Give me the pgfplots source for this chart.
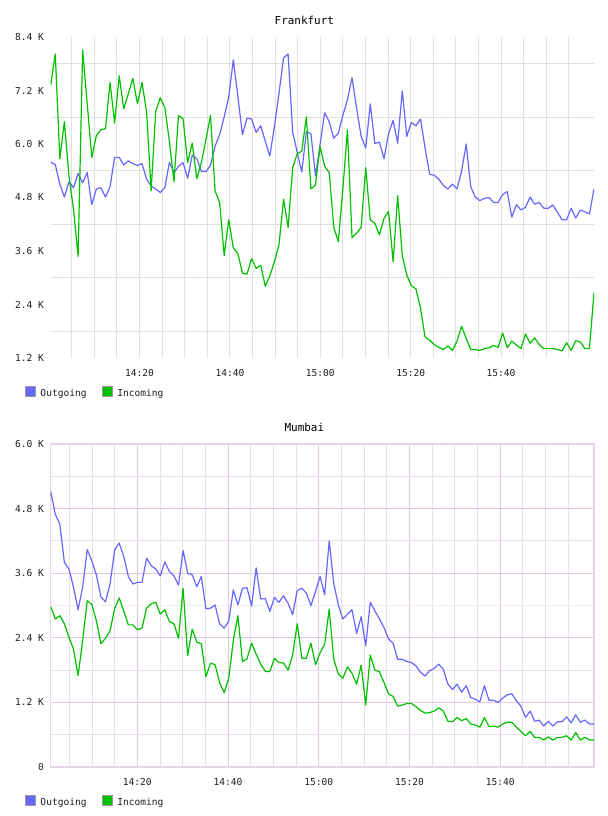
\documentclass[border=0pt]{standalone}
\usepackage{pgfplots}
\pgfplotsset{compat=1.18}
\usepackage{pgfplotstable}
\usepackage{fontspec}
\setmainfont{DejaVu Sans Mono}

\definecolor{outblue}{RGB}{102,102,255}
\definecolor{ingreen}{RGB}{0,192,0}
\definecolor{gridgrey}{RGB}{224,224,224}
\definecolor{majpink}{RGB}{226,198,226}
\definecolor{minpink}{RGB}{230,224,232}
\definecolor{framepink}{RGB}{230,212,232}
\definecolor{bandgrey}{RGB}{238,238,238}
\definecolor{labelgrey}{RGB}{30,30,30}

% traffic samples, one per minute, in thousands
\pgfplotstableread{
i out in
0 5.59 7.32
1 5.54 8.02
2 5.10 5.67
3 4.81 6.50
4 5.15 5.28
5 5.02 4.54
6 5.34 3.48
7 5.13 8.11
8 5.36 6.90
9 4.64 5.70
10 4.99 6.19
11 5.02 6.32
12 4.81 6.34
13 5.04 7.38
14 5.70 6.47
15 5.70 7.53
16 5.53 6.79
17 5.62 7.13
18 5.56 7.47
19 5.52 6.90
20 5.56 7.38
21 5.21 6.73
22 5.06 4.95
23 4.99 6.73
24 4.91 7.04
25 5.02 6.82
26 5.59 6.06
27 5.36 5.15
28 5.50 6.64
29 5.58 6.56
30 5.23 5.58
31 5.75 6.02
32 5.67 5.22
33 5.39 5.58
34 5.38 6.10
35 5.52 6.64
36 5.95 4.95
37 6.21 4.69
38 6.61 3.50
39 7.06 4.30
40 7.89 3.67
41 7.06 3.54
42 6.21 3.10
43 6.58 3.08
44 6.56 3.43
45 6.26 3.21
46 6.41 3.28
47 6.06 2.81
48 5.73 3.04
49 6.39 3.36
50 7.13 3.74
51 7.93 4.76
52 8.02 4.13
53 6.27 5.47
54 5.81 5.78
55 5.37 5.84
56 6.28 6.61
57 6.23 4.99
58 5.28 5.08
59 5.99 5.94
60 6.70 5.50
61 6.50 5.36
62 6.13 4.13
63 6.24 3.81
64 6.65 5.00
65 6.99 6.32
66 7.49 3.90
67 6.80 4.00
68 6.17 4.13
69 5.91 5.47
70 6.90 4.30
71 6.01 4.22
72 6.04 3.96
73 5.67 4.33
74 6.23 4.49
75 6.53 3.36
76 6.02 4.84
77 7.19 3.50
78 6.17 3.06
79 6.48 2.82
80 6.41 2.75
81 6.56 2.32
82 5.91 1.67
83 5.32 1.60
84 5.30 1.50
85 5.21 1.44
86 5.07 1.39
87 4.99 1.47
88 5.10 1.37
89 4.99 1.58
90 5.39 1.91
91 6.00 1.64
92 5.04 1.39
93 4.81 1.39
94 4.73 1.37
95 4.78 1.41
96 4.80 1.43
97 4.69 1.48
98 4.69 1.44
99 4.87 1.76
100 4.93 1.43
101 4.36 1.58
102 4.64 1.49
103 4.52 1.41
104 4.58 1.74
105 4.81 1.53
106 4.65 1.65
107 4.69 1.50
108 4.56 1.41
109 4.56 1.41
110 4.63 1.41
111 4.47 1.39
112 4.30 1.36
113 4.30 1.54
114 4.56 1.37
115 4.34 1.59
116 4.52 1.56
117 4.48 1.41
118 4.43 1.41
119 4.99 2.67
}\frankfurt

\pgfplotstableread{
i out in
0 5.12 2.98
1 4.70 2.75
2 4.51 2.81
3 3.80 2.66
4 3.68 2.41
5 3.34 2.19
6 2.92 1.70
7 3.34 2.35
8 4.04 3.09
9 3.83 3.02
10 3.57 2.72
11 3.16 2.29
12 3.07 2.39
13 3.40 2.53
14 4.03 2.94
15 4.16 3.14
16 3.91 2.90
17 3.54 2.64
18 3.40 2.64
19 3.43 2.55
20 3.43 2.58
21 3.88 2.95
22 3.74 3.03
23 3.68 3.06
24 3.55 2.84
25 3.81 2.92
26 3.63 2.70
27 3.55 2.66
28 3.38 2.39
29 4.02 3.32
30 3.60 2.07
31 3.57 2.56
32 3.35 2.32
33 3.54 2.29
34 2.94 1.68
35 2.95 1.93
36 3.01 1.90
37 2.66 1.57
38 2.58 1.38
39 2.71 1.65
40 3.29 2.35
41 3.01 2.81
42 3.32 1.96
43 3.33 2.01
44 2.99 2.30
45 3.70 2.10
46 3.12 1.91
47 3.13 1.78
48 2.89 1.77
49 3.15 2.02
50 3.06 1.94
51 3.18 1.93
52 3.04 1.80
53 2.83 2.08
54 3.28 2.66
55 3.32 2.02
56 3.23 2.02
57 3.00 2.30
58 3.26 1.90
59 3.54 2.12
60 3.20 2.28
61 4.20 2.93
62 3.41 2.00
63 3.01 1.73
64 2.75 1.65
65 2.84 1.86
66 2.92 1.74
67 2.48 1.54
68 2.79 1.89
69 2.25 1.15
70 3.06 2.08
71 2.90 1.80
72 2.75 1.77
73 2.59 1.57
74 2.38 1.36
75 2.30 1.31
76 2.00 1.13
77 2.00 1.15
78 1.96 1.18
79 1.94 1.18
80 1.88 1.12
81 1.76 1.05
82 1.69 1.00
83 1.79 1.01
84 1.83 1.04
85 1.91 1.10
86 1.81 1.04
87 1.54 0.85
88 1.44 0.84
89 1.54 0.92
90 1.39 0.86
91 1.51 0.90
92 1.29 0.80
93 1.26 0.78
94 1.21 0.74
95 1.51 0.92
96 1.24 0.75
97 1.24 0.76
98 1.20 0.74
99 1.28 0.80
100 1.34 0.83
101 1.36 0.83
102 1.23 0.74
103 1.13 0.66
104 0.92 0.58
105 1.04 0.66
106 0.85 0.55
107 0.87 0.55
108 0.76 0.50
109 0.85 0.56
110 0.76 0.50
111 0.84 0.55
112 0.84 0.55
113 0.93 0.58
114 0.82 0.50
115 0.97 0.64
116 0.83 0.50
117 0.87 0.55
118 0.80 0.50
119 0.80 0.50
}\mumbai

\pgfplotsset{
  traffic/.style={
    scale only axis, width=543.3bp, xmin=0, xmax=119,
    axis line style={draw=none}, tick style={draw=none},
    ticklabel style={font=\fontsize{9.6}{10}\selectfont, text=labelgrey, inner sep=0pt},
    yticklabel style={anchor=east, xshift=-6.7bp},
    xticklabel style={anchor=center, yshift=-15bp},
    xticklabels={14:20,14:40,15:00,15:20,15:40},
    xmajorgrids, xminorgrids,
    title style={font=\fontsize{11}{12}\selectfont, text=black, at={(0.5,1)}, anchor=base, xshift=-18bp, yshift=6.5bp},
    legend style={draw=none, fill=none, at={(0,0)}, anchor=west, xshift=-26bp, yshift=-34bp,
      legend columns=2, inner sep=0pt, outer sep=0pt,
      font=\fontsize{9.6}{10}\selectfont, text=labelgrey, nodes={inner sep=0pt},
      /tikz/every odd column/.append style={column sep=5bp},
      /tikz/every even column/.append style={column sep=15bp}},
    legend image code/.code={\filldraw[##1, draw=gray!80, line width=0.8bp] (0bp,-2bp) rectangle (10bp,8bp);},
  },
  outline/.style={outblue, line width=1.2bp, line join=round},
  inline/.style={ingreen, line width=1.2bp, line join=round},
}

\begin{document}
\begin{tikzpicture}
\useasboundingbox (0,0) rectangle (608bp,816bp);

\begin{axis}[traffic,
  at={(50.7bp,458bp)}, anchor=south west, height=321bp,
  ymin=1.2, ymax=8.4,
  ytick={1.2,2.4,3.6,4.8,6.0,7.2,8.4},
  yticklabels={1.2 K,2.4 K,3.6 K,4.8 K,6.0 K,7.2 K,8.4 K},
  minor ytick={1.8,3.0,4.2,5.4,6.6,7.8}, yminorgrids,
  xtick={19.45,39.25,59.05,78.85,98.65},
  minor xtick={4.6,9.55,14.5,24.4,29.35,34.3,44.2,49.15,54.1,64.0,68.95,73.9,83.8,88.75,93.7,103.6,108.55,113.5},
  major grid style={gridgrey, line width=0.9bp},
  minor grid style={gridgrey, line width=0.9bp},
  title=Frankfurt,
]
\addplot[outline] table[x=i, y=out] {\frankfurt};
\addlegendentry{Outgoing}
\addplot[inline] table[x=i, y=in] {\frankfurt};
\addlegendentry{Incoming}
\end{axis}

\begin{axis}[traffic,
  at={(50.7bp,49bp)}, anchor=south west, height=323bp,
  ymin=0, ymax=6,
  ytick={0,1.2,2.4,3.6,4.8,6.0},
  yticklabels={0,1.2 K,2.4 K,3.6 K,4.8 K,6.0 K},
  ymajorgrids,
  minor ytick={0.6,1.8,4.2,5.4}, yminorgrids,
  extra y ticks={3.0}, extra y tick labels={},
  extra y tick style={grid=major, major grid style={bandgrey, line width=1.8bp}},
  xtick={18.97,38.84,58.71,78.58,98.45},
  minor xtick={4.07,9.04,14.0,23.94,28.9,33.87,43.8,48.78,53.74,63.68,68.65,73.6,83.55,88.5,93.5,103.4,108.4,113.35},
  major grid style={majpink, line width=0.9bp},
  minor grid style={minpink, line width=0.9bp},
  axis line style={draw=framepink, line width=1.4bp},
  title=Mumbai,
]
\addplot[outline] table[x=i, y=out] {\mumbai};
\addlegendentry{Outgoing}
\addplot[inline] table[x=i, y=in] {\mumbai};
\addlegendentry{Incoming}
\end{axis}
\end{tikzpicture}
\end{document}
